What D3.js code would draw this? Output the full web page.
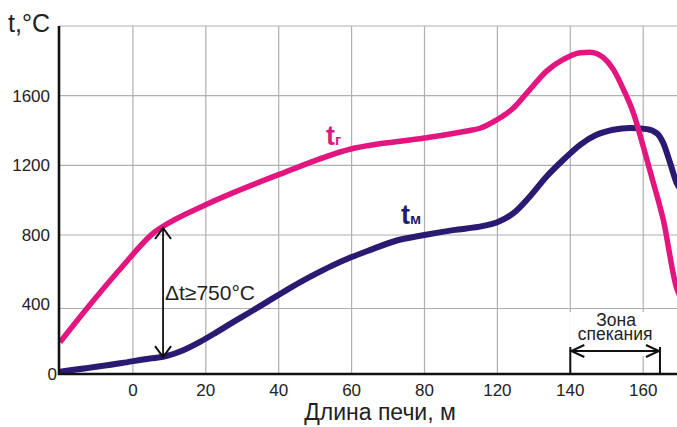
<!DOCTYPE html>
<html>
<head>
<meta charset="utf-8">
<script src="https://cdn.jsdelivr.net/npm/d3@7"></script>
<style>
  body { margin: 0; background: #fff; }
  svg { display: block; font-family: "Liberation Sans", Arial, sans-serif; }
</style>
</head>
<body>
<svg id="chart"></svg>
<script>
// tick labels (note: the original axis jumps from 80 straight to 120)
var xTickLabels = [0, 20, 40, 60, 80, 120, 140, 160];
var yGridValues = [400, 800, 1200, 1600, 2000];
var yTickLabels = [0, 400, 800, 1200, 1600];

// gas temperature t_г
var gasX = [-20, -12.3, -3, 6, 8, 19.8, 39.8, 59.8, 80, 103.3, 110.4, 119.6, 124.4, 128.9, 133.5, 138.1, 142.7, 145.4, 149.1, 151.8, 154.6, 157.3, 160, 162.8, 165.5, 169.2, 170];
var gasT = [194, 408, 626, 817, 846, 972, 1145, 1294, 1357, 1397, 1413, 1461, 1529, 1635, 1741, 1808, 1847, 1850, 1818, 1751, 1635, 1501, 1309, 1099, 888, 510, 470];

// material temperature t_м
var metalX = [-20, -3, 4.7, 8.3, 13.8, 18.4, 23, 27.5, 32.1, 36.7, 41.3, 45.8, 50.4, 54.1, 60, 65, 72.4, 80, 95.8, 112.3, 119.6, 124.4, 128.9, 133.5, 138.1, 142.7, 147.2, 151.8, 156.4, 161, 163.7, 165.5, 167.4, 169.2, 170];
var metalT = [14, 67, 95, 105, 145, 196, 256, 317, 377, 435, 490, 542, 591, 628, 680, 718, 770, 800, 828, 852, 872, 925, 1021, 1136, 1232, 1318, 1375, 1404, 1414, 1408, 1385, 1328, 1213, 1098, 1070];

var W = 677, H = 427;
var plotLeft = 59, plotRight = 677, plotTop = 26, plotBottom = 374;
var k = 3.645; // px per metre
var gasColor = "#e3167f";
var metalColor = "#2a1a72";

var svg = d3.select("#chart").attr("width", W).attr("height", H);

var x = d3.scaleLinear()
    .domain([-20, 80, 120, 170])
    .range([plotLeft + 1, plotLeft + 1 + 100 * k, plotLeft + 1 + 120 * k, plotLeft + 1 + 170 * k]);
// the hand-drawn grid is slightly uneven near the bottom
var y = d3.scaleLinear().domain([0, 400, 800, 2000]).range([plotBottom, 308.5, 235, plotTop]);

// grid
svg.selectAll(".vgrid")
    .data(xTickLabels)
    .enter().append("line")
    .attr("x1", d => x(d)).attr("x2", d => x(d))
    .attr("y1", plotTop).attr("y2", plotBottom)
    .attr("stroke", "#b0b0b0").attr("stroke-width", 1.2);

svg.selectAll(".hgrid")
    .data(yGridValues)
    .enter().append("line")
    .attr("x1", plotLeft).attr("x2", plotRight)
    .attr("y1", d => y(d)).attr("y2", d => y(d))
    .attr("stroke", "#b0b0b0").attr("stroke-width", 1.2);

// white patch behind the zone label
var zoneFrom = 140, zoneTo = 164.6;
svg.append("rect")
    .attr("x", x(zoneFrom) - 1).attr("y", 312)
    .attr("width", x(zoneTo) - x(zoneFrom) + 2).attr("height", 44)
    .attr("fill", "#fff");

// curves
svg.append("clipPath").attr("id", "plot")
    .append("rect").attr("x", plotLeft).attr("y", plotTop)
    .attr("width", plotRight - plotLeft).attr("height", plotBottom - plotTop);

var line = d3.line()
    .x(d => x(d[0]))
    .y(d => y(d[1]))
    .curve(d3.curveMonotoneX);

svg.append("path")
    .datum(metalX.map((v, i) => [v, metalT[i]]))
    .attr("d", line)
    .attr("clip-path", "url(#plot)")
    .attr("fill", "none")
    .attr("stroke", metalColor)
    .attr("stroke-width", 6)
    .attr("stroke-linejoin", "round");

svg.append("path")
    .datum(gasX.map((v, i) => [v, gasT[i]]))
    .attr("d", line)
    .attr("clip-path", "url(#plot)")
    .attr("fill", "none")
    .attr("stroke", gasColor)
    .attr("stroke-width", 5.5)
    .attr("stroke-linejoin", "round");

// axes
svg.append("line")
    .attr("x1", plotLeft).attr("x2", plotLeft).attr("y1", plotTop).attr("y2", plotBottom + 1)
    .attr("stroke", "#111").attr("stroke-width", 2.6);
svg.append("line")
    .attr("x1", plotLeft - 1).attr("x2", plotRight).attr("y1", plotBottom).attr("y2", plotBottom)
    .attr("stroke", "#111").attr("stroke-width", 2.6);

// tick labels
svg.selectAll(".xlab")
    .data(xTickLabels)
    .enter().append("text")
    .attr("x", d => x(d)).attr("y", 396)
    .attr("text-anchor", "middle")
    .attr("font-size", 17).attr("fill", "#222")
    .text(d => d);

svg.selectAll(".ylab")
    .data(yTickLabels)
    .enter().append("text")
    .attr("x", d => d === 0 ? 57 : 50).attr("y", d => d === 400 ? y(d) - 4 : y(d))
    .attr("dy", "0.35em")
    .attr("text-anchor", "end")
    .attr("font-size", 17).attr("fill", "#222")
    .text(d => d);

svg.append("text")
    .attr("x", 8).attr("y", 32)
    .attr("font-size", 25).attr("fill", "#222")
    .text("t,°C");

svg.append("text")
    .attr("x", 380).attr("y", 420)
    .attr("text-anchor", "middle")
    .attr("font-size", 23).attr("fill", "#222")
    .text("Длина печи, м");

// curve labels
function curveLabel(px, py, sub, color) {
    var t = svg.append("text")
        .attr("x", px).attr("y", py)
        .attr("font-weight", "bold").attr("fill", color)
        .attr("font-size", 27);
    t.append("tspan").text("t");
    t.append("tspan").attr("font-size", 15).text(sub);
}
curveLabel(326, 145, "г", gasColor);
curveLabel(401, 224, "м", metalColor);

// arrow helpers
function chevron(px, py, dx, dy, nx, ny) {
    svg.append("path")
        .attr("d", "M" + (px + dx + nx) + "," + (py + dy + ny) + "L" + px + "," + py +
            "L" + (px + dx - nx) + "," + (py + dy - ny))
        .attr("fill", "none").attr("stroke", "#111").attr("stroke-width", 2);
}

// delta t annotation
var deltaX = 8, deltaTop = 840, deltaBottom = 103;
var dx0 = x(deltaX) + 1;
svg.append("line")
    .attr("x1", dx0).attr("x2", dx0)
    .attr("y1", y(deltaTop)).attr("y2", y(deltaBottom))
    .attr("stroke", "#111").attr("stroke-width", 1.8);
chevron(dx0, y(deltaTop), 0, 11, 8, 0);
chevron(dx0, y(deltaBottom), 0, -11, 8, 0);

svg.append("text")
    .attr("x", 165).attr("y", 300)
    .attr("font-size", 21).attr("fill", "#222")
    .text("\u0394t\u2265750°C");

// sintering zone
var zy = 351;
svg.append("line")
    .attr("x1", x(zoneFrom)).attr("x2", x(zoneTo)).attr("y1", zy).attr("y2", zy)
    .attr("stroke", "#111").attr("stroke-width", 2);
[zoneFrom, zoneTo].forEach(function (v) {
    svg.append("line")
        .attr("x1", x(v)).attr("x2", x(v)).attr("y1", 347).attr("y2", plotBottom)
        .attr("stroke", "#111").attr("stroke-width", 2);
});
chevron(x(zoneFrom) + 1, zy, 13, 0, 0, 6);
chevron(x(zoneTo) - 1, zy, -13, 0, 0, 6);

svg.append("text")
    .attr("x", (x(zoneFrom) + x(zoneTo)) / 2 + 1).attr("y", 326)
    .attr("text-anchor", "middle").attr("font-size", 17.5).attr("fill", "#222")
    .text("Зона");
svg.append("text")
    .attr("x", (x(zoneFrom) + x(zoneTo)) / 2).attr("y", 340)
    .attr("text-anchor", "middle").attr("font-size", 17.5).attr("fill", "#222")
    .text("спекания");
</script>
</body>
</html>
